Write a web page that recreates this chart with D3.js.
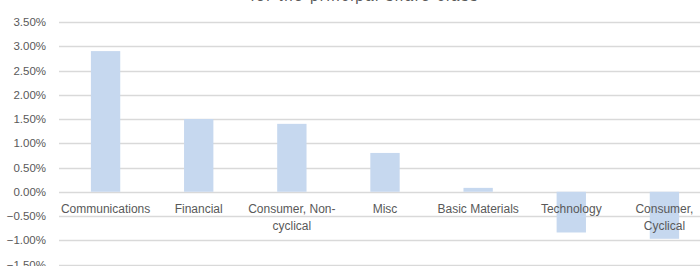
<!DOCTYPE html>
<html>
<head>
<meta charset="utf-8">
<script src="https://cdn.jsdelivr.net/npm/d3@7"></script>
<style>
  body { margin: 0; background: #fff; }
  svg { display: block; overflow: hidden; }
  text { font-family: "Liberation Sans", "DejaVu Sans", sans-serif; fill: #595959; }
</style>
</head>
<body>
<svg width="700" height="266"></svg>
<script>
// sector names (lines split as in the chart)
var sectors = [
  ["Communications"],
  ["Financial"],
  ["Consumer, Non-", "cyclical"],
  ["Misc"],
  ["Basic Materials"],
  ["Technology"],
  ["Consumer,", "Cyclical"]
];
// contribution in percent
var values = [2.90, 1.50, 1.40, 0.80, 0.08, -0.84, -0.97];
var yTicks = [-1.5, -1.0, -0.5, 0, 0.5, 1.0, 1.5, 2.0, 2.5, 3.0, 3.5];
var title = "for the principal share class";

var svg = d3.select("svg");

var x = d3.scaleBand()
  .domain(d3.range(sectors.length))
  .range([59, 711])
  .paddingInner(0.685)
  .paddingOuter(0.3425);

var y = d3.scaleLinear()
  .domain([-1.5, 3.5])
  .range([264.5, 22]);

// title, mostly cut off at the top
svg.append("text")
  .attr("x", 364)
  .attr("y", 1.2)
  .attr("text-anchor", "middle")
  .attr("textLength", 227)
  .style("font-size", "15px")
  .text(title);

// gridlines
svg.append("g")
  .selectAll("line")
  .data(yTicks)
  .enter().append("line")
  .attr("x1", 59)
  .attr("x2", 711)
  .attr("y1", function (d) { return Math.round(y(d)) + 0.5; })
  .attr("y2", function (d) { return Math.round(y(d)) + 0.5; })
  .attr("stroke", "#d9d9d9")
  .attr("stroke-width", 1.3);

// y axis labels
var yAxis = d3.axisLeft(y)
  .tickValues(yTicks)
  .tickSize(0)
  .tickPadding(0)
  .tickFormat(function (d) { return d3.format(".2f")(d) + "%"; });

svg.append("g")
  .attr("transform", "translate(46,0)")
  .call(yAxis)
  .call(function (g) { g.select(".domain").remove(); })
  .selectAll("text")
  .style("font-size", "11.5px")
  .style("font-family", "\"Liberation Sans\", sans-serif")
  .attr("fill", "#595959");

// bars
svg.append("g")
  .selectAll("rect")
  .data(values)
  .enter().append("rect")
  .attr("x", function (d, i) { return x(i); })
  .attr("width", x.bandwidth())
  .attr("y", function (d) { return y(Math.max(0, d)); })
  .attr("height", function (d) { return Math.abs(y(d) - y(0)); })
  .attr("fill", "#c6d8ef");

// category labels
var labels = svg.append("g")
  .selectAll("text")
  .data(sectors)
  .enter().append("text")
  .attr("text-anchor", "middle")
  .attr("x", function (d, i) { return x(i) + x.bandwidth() / 2; })
  .attr("y", 213)
  .style("font-size", "12px");

labels.selectAll("tspan")
  .data(function (d) { return d; })
  .enter().append("tspan")
  .attr("x", function () { return d3.select(this.parentNode).attr("x"); })
  .attr("dy", function (d, i) { return i === 0 ? 0 : 16.5; })
  .text(function (d) { return d; });
</script>
</body>
</html>
